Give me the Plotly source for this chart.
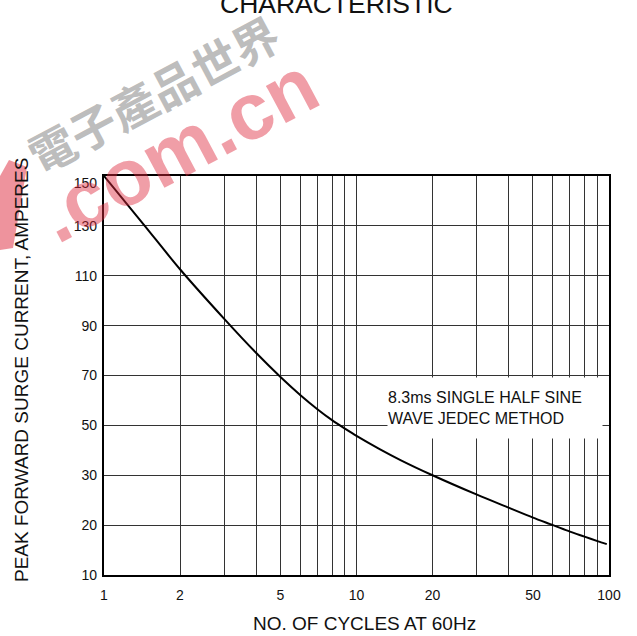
import numpy as np
import plotly.graph_objects as go

# ---- data ----
cycles = [1, 1.45, 2, 3, 4, 5, 6, 7, 8, 9, 10, 12.4, 15, 20, 30, 40, 50, 60, 70, 80, 90, 98]
amps = [150, 130, 112.6, 92.6, 79.1, 69.4, 62.1, 56.5, 52.1, 48.7, 45.8, 40.4, 36.0, 30,
        26.1, 23.5, 21.5, 20.0, 18.7, 17.7, 16.8, 16.2]

y_tick_values = [10, 20, 30, 50, 70, 90, 110, 130, 150]
y_tick_labels = ["10", "20", "30", "50", "70", "90", "110", "130", "150"]

x_grid_values = [1, 2, 3, 4, 5, 6, 7, 8, 9, 10, 20, 30, 40, 50, 60, 70, 80, 90, 100]
x_labelled = {1: "1", 2: "2", 5: "5", 10: "10", 20: "20", 50: "50", 100: "100"}

title_text = "CHARACTERISTIC"
x_title = "NO. OF CYCLES AT 60Hz"
y_title = "PEAK FORWARD SURGE CURRENT, AMPERES"
note_text = "8.3ms SINGLE HALF SINE<br>WAVE JEDEC METHOD"

# ---- figure geometry / style ----
W, H = 637, 636
ML, MR, MT, MB = 104, 28, 176, 61
PW, PH = W - ML - MR, H - MT - MB
FONT = "Liberation Sans, Arial, sans-serif"
GRID = "#333333"

def px_x(p):
    return (p - ML) / PW

def px_y(p):
    return (H - MB - p) / PH

# the chart's y scale spaces the labelled values evenly
y_index = np.interp(amps, y_tick_values, np.arange(len(y_tick_values)))
top_label_shift = 0.14  # label "150" sits slightly below the frame top
label_pos = list(np.arange(len(y_tick_values), dtype=float))
label_pos[-1] -= top_label_shift

fig = go.Figure()
fig.add_trace(go.Scatter(
    x=cycles, y=y_index, mode="lines",
    line=dict(color="black", width=2, shape="spline", smoothing=0.8),
    hoverinfo="skip", showlegend=False,
))
fig.add_trace(go.Scatter(
    x=[cycles[0]], y=[0], yaxis="y2", mode="none",
    hoverinfo="skip", showlegend=False,
))

fig.update_layout(
    width=W, height=H,
    margin=dict(l=ML, r=MR, t=MT, b=MB, pad=0),
    paper_bgcolor="white", plot_bgcolor="white",
    font=dict(family=FONT, color="#111"),
    xaxis=dict(
        type="log", range=[0, 2],
        tickmode="array", tickvals=x_grid_values,
        ticktext=[x_labelled.get(v, "") for v in x_grid_values],
        ticks="", showgrid=True, gridcolor=GRID, gridwidth=1.2,
        showline=True, linecolor="black", linewidth=1.6, mirror=True,
        zeroline=False, tickfont=dict(size=14, family=FONT, color="#111"),
        ticklabelstandoff=6,
    ),
    yaxis=dict(
        range=[0, len(y_tick_values) - 1],
        tickmode="array", tickvals=list(range(len(y_tick_values))),
        showticklabels=False, ticks="",
        showgrid=True, gridcolor=GRID, gridwidth=1.2,
        showline=True, linecolor="black", linewidth=1.6, mirror=True,
        zeroline=False,
    ),
    yaxis2=dict(
        overlaying="y", side="left",
        range=[0, len(y_tick_values) - 1],
        tickmode="array", tickvals=label_pos, ticktext=y_tick_labels,
        ticks="", showgrid=False, showline=False, zeroline=False,
        tickfont=dict(size=14, family=FONT, color="#111"),
        ticklabelstandoff=6,
    ),
)

ann = []
ann.append(dict(
    text=note_text, xref="paper", yref="paper",
    x=px_x(387), y=px_y(377), xanchor="left", yanchor="top",
    width=214, height=60, align="left", valign="middle",
    bgcolor="white", borderpad=0, showarrow=False,
    font=dict(size=16, family=FONT, color="#111"),
))
ann.append(dict(
    text=title_text, xref="paper", yref="paper",
    x=px_x(336), y=px_y(13), xanchor="center", yanchor="bottom",
    yshift=-8, showarrow=False,
    font=dict(size=26.5, family=FONT, color="#111"),
))
ann.append(dict(
    text=x_title, xref="paper", yref="paper",
    x=px_x(364), y=px_y(623), xanchor="center", yanchor="middle",
    showarrow=False, font=dict(size=19, family=FONT, color="#111"),
))
ann.append(dict(
    text=y_title, xref="paper", yref="paper",
    x=px_x(21), y=px_y(370), xanchor="center", yanchor="middle",
    textangle=-90, showarrow=False,
    font=dict(size=19, family=FONT, color="#111"),
))
# watermark seen on the reference
ann.append(dict(
    text="電子產品世界", xref="paper", yref="paper",
    x=px_x(153), y=px_y(93), xanchor="center", yanchor="middle",
    textangle=-28, showarrow=False,
    font=dict(size=46, family="Noto Sans CJK TC", color="rgba(160,160,160,0.7)", weight="bold"),
))
ann.append(dict(
    text="<b>.com.cn</b>", xref="paper", yref="paper",
    x=px_x(178), y=px_y(150), xanchor="center", yanchor="middle",
    textangle=-28, showarrow=False,
    font=dict(size=80, family=FONT, color="rgba(222,40,60,0.45)"),
))
fig.update_layout(annotations=ann)

red_pts = [(9, 160), (27, 167), (13, 248), (0, 250), (0, 176)]
path = "M " + " L ".join(f"{px_x(a):.4f},{px_y(b):.4f}" for a, b in red_pts) + " Z"
fig.add_shape(type="path", path=path, xref="paper", yref="paper",
              fillcolor="rgba(222,40,60,0.5)", line=dict(width=0), layer="above")

fig.write_html("out.html", config={"displayModeBar": False},
               post_script="document.body.style.margin='0';")
